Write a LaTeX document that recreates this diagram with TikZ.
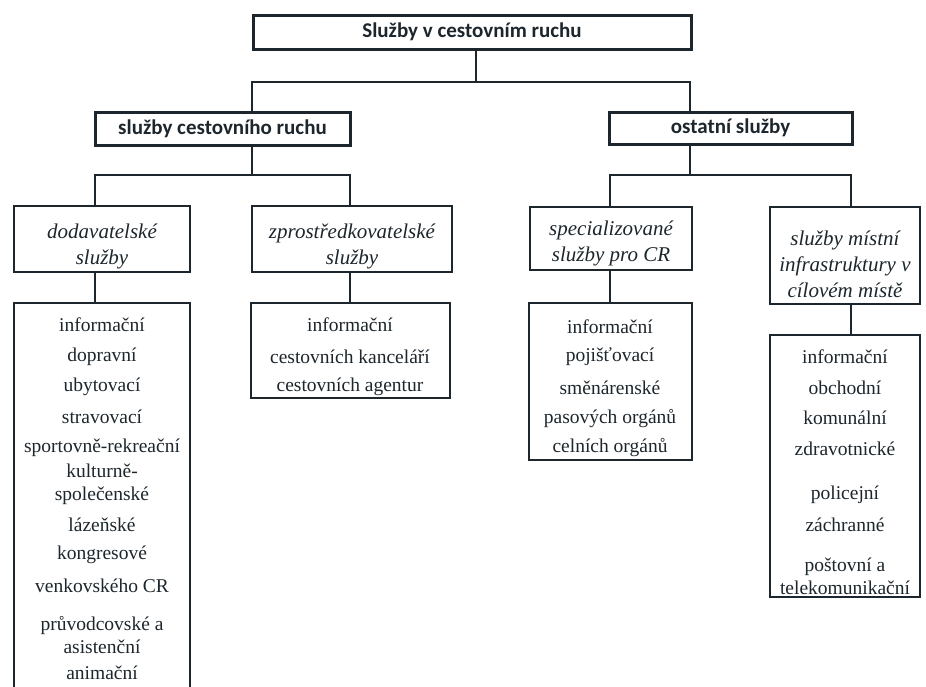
\documentclass[tikz,border=0pt]{standalone}
\usepackage{fontspec}
\setmainfont{Liberation Serif}
\newfontfamily\headfont{Carlito}
\definecolor{ink}{RGB}{28,38,44}
\begin{document}
\begin{tikzpicture}[
  x=1pt, y=-1pt,
  every node/.style={inner sep=0pt, text=ink},
  headbox/.style={draw=ink, line width=3pt, font=\headfont\bfseries\fontsize{21}{25}\selectfont},
  kindbox/.style={draw=ink, line width=2.6pt},
  kindtext/.style={align=center, font=\itshape\fontsize{21}{26}\selectfont},
  listbox/.style={draw=ink, line width=2.6pt},
  item/.style={align=center, font=\fontsize{19.5}{23}\selectfont},
  link/.style={draw=ink, line width=1.8pt}
]
\useasboundingbox (0,0) rectangle (926,686);

\node[headbox, minimum width=438, minimum height=34] (top) at (472,32) {Služby v cestovním ruchu};
\node[headbox, minimum width=255, minimum height=33] (l2a) at (222.5,128.5) {služby cestovního ruchu};
\node[headbox, minimum width=243, minimum height=32] (l2b) at (730.5,128) {ostatní služby};

\node[kindbox, minimum width=176, minimum height=66] (l3a) at (102,239) {};
\node[kindbox, minimum width=200, minimum height=66] (l3b) at (352,239) {};
\node[kindbox, minimum width=162, minimum height=63] (l3c) at (611,238.5) {};
\node[kindbox, minimum width=150, minimum height=97] (l3d) at (845,255.5) {};
\node[kindtext] (l3a-t) at (102,246) {dodavatelské\\služby};
\node[kindtext] (l3b-t) at (352,246) {zprostředkovatelské\\služby};
\node[kindtext] (l3c-t) at (611,243) {specializované\\služby pro CR};
\node[kindtext] (l3d-t) at (845,264) {služby místní\\infrastruktury v\\cílovém místě};

\node[listbox, minimum width=176, minimum height=417] (list1) at (102,511.5) {};
\node[listbox, minimum width=199, minimum height=95] (list2) at (350.5,350.5) {};
\node[listbox, minimum width=163, minimum height=157] (list3) at (610.5,381.5) {};
\node[listbox, minimum width=150, minimum height=262] (list4) at (845,466) {};

\foreach \y/\t [count=\i] in {325/informační, 357/dopravní, 387/ubytovací, 417/stravovací,
  448/sportovně-rekreační, 484.5/{kulturně-\\společenské}, 525/lázeňské, 555/kongresové,
  586/venkovského CR, 635/{průvodcovské a\\asistenční}, 673/animační}
  \node[item] (a\i) at (102,\y) {\t};
\foreach \y/\t [count=\i] in {325/informační, 357/cestovních kanceláří, 387/cestovních agentur}
  \node[item] (b\i) at (350,\y) {\t};
\foreach \y/\t [count=\i] in {327/informační, 357/pojišťovací, 388/směnárenské,
  419/pasových orgánů, 448/celních orgánů}
  \node[item] (c\i) at (610,\y) {\t};
\foreach \y/\t [count=\i] in {357/informační, 388/obchodní, 418/komunální, 449/zdravotnické,
  495/policejní, 525/záchranné, 576/{poštovní a\\telekomunikační}}
  \node[item] (d\i) at (845,\y) {\t};

\coordinate (f0) at (476,82);
\coordinate (f1) at (252,82);
\coordinate (f2) at (690,82);
\coordinate (g1) at (252,175);
\coordinate (g1a) at (95,175);
\coordinate (g1b) at (350,175);
\coordinate (g2) at (690,175);
\coordinate (g2c) at (610,175);
\coordinate (g2d) at (851,175);

\draw[link] (top.south -| f0) -- (f0);
\draw[link] (l2a.north -| f1) -- (f1) -- (f2) -- (l2b.north -| f2);
\draw[link] (l2a.south -| g1) -- (g1);
\draw[link] (l3a.north -| g1a) -- (g1a) -- (g1b) -- (l3b.north -| g1b);
\draw[link] (l2b.south -| g2) -- (g2);
\draw[link] (l3c.north -| g2c) -- (g2c) -- (g2d) -- (l3d.north -| g2d);
\draw[link] (l3a.south -| g1a) -- (list1.north -| g1a);
\draw[link] (l3b.south -| g1b) -- (list2.north -| g1b);
\draw[link] (l3c.south -| g2c) -- (list3.north -| g2c);
\draw[link] (l3d.south -| g2d) -- (list4.north -| g2d);
\end{tikzpicture}
\end{document}
